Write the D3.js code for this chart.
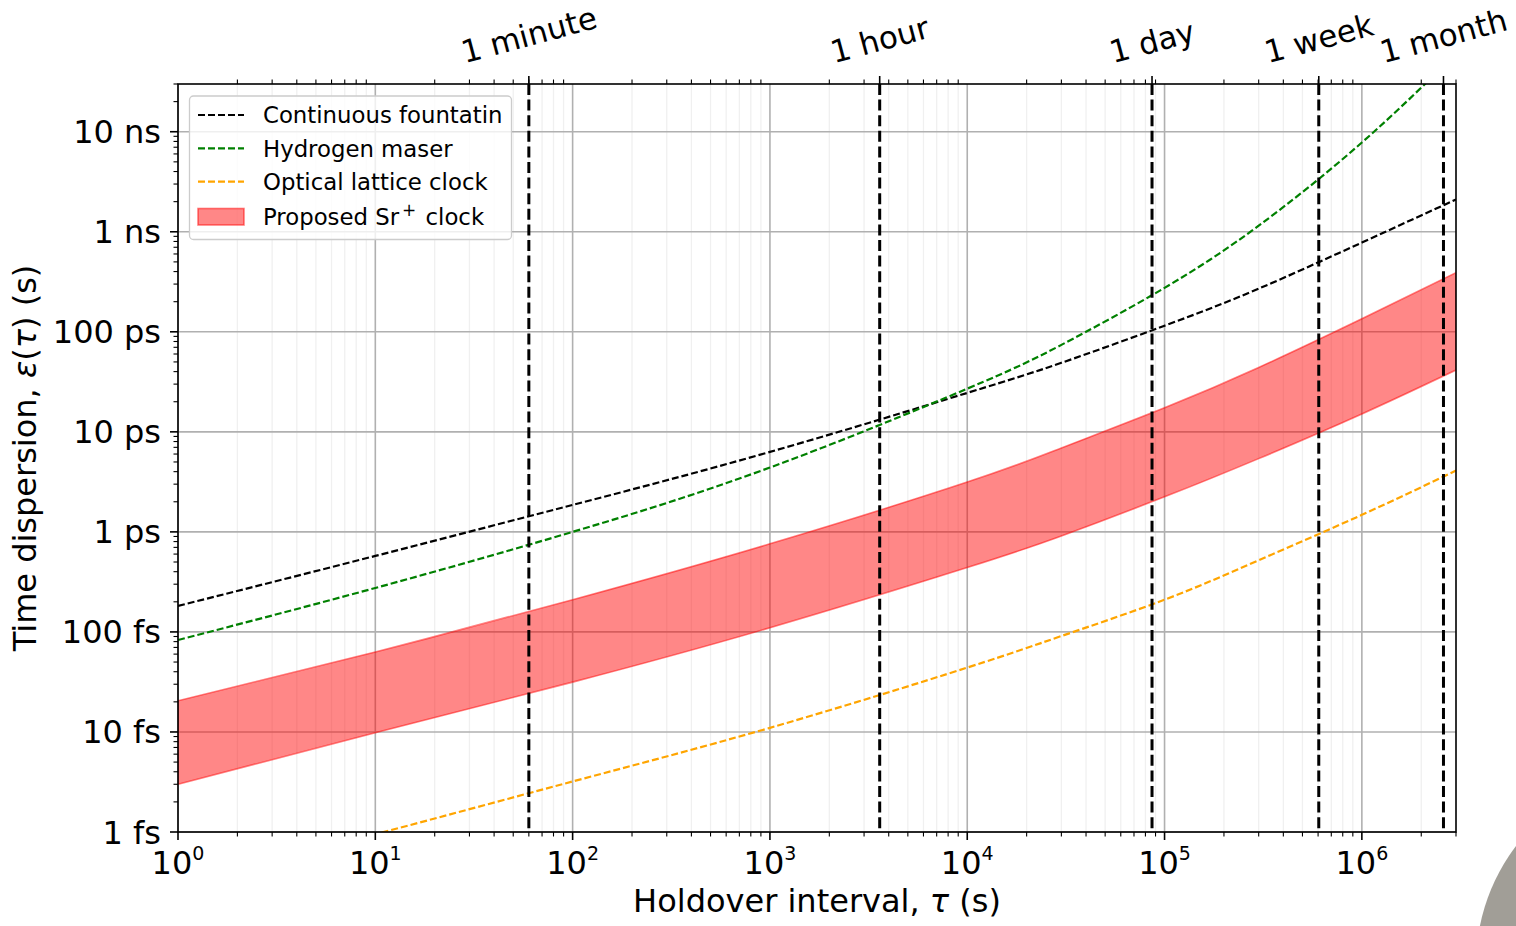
<!DOCTYPE html>
<meta charset="utf-8">
<style>
html, body {
  margin: 0;
  background: #fff;
}

.chart {
  display: block;
  font-family: "DejaVu Sans", sans-serif;
}
</style>
<body>
<svg class="chart" width="1516" height="926"></svg>

<script src="https://d3js.org/d3.v7.min.js"></script>
<script>
"use strict";

// holdover intervals (s) at which the curves were read
var tau = [1, 10, 100, 1e3, 1e4, 3e4, 1e5, 3e5, 1e6, 3e6];

// time dispersion (s) for each clock
var fountain = [1.82e-13, 5.75e-13, 1.86e-12, 6.3e-12, 2.45e-11, 4.9e-11, 1.15e-10, 2.7e-10, 7.8e-10, 2.1e-9];
var maser    = [8.3e-14, 2.75e-13, 1.0e-12, 4.4e-12, 2.7e-11, 7.4e-11, 2.75e-10, 1.15e-9, 7.8e-9, 6.0e-8];
var lattice  = [3.0e-16, 9.5e-16, 3.2e-15, 1.1e-14, 4.4e-14, 9.1e-14, 2.1e-13, 5.2e-13, 1.48e-12, 4.1e-12];
var srUpper  = [2.05e-14, 6.3e-14, 2.1e-13, 7.6e-13, 3.15e-12, 6.9e-12, 1.74e-11, 4.4e-11, 1.35e-10, 3.9e-10];
var srLower  = [3.0e-15, 9.8e-15, 3.15e-14, 1.1e-13, 4.4e-13, 9.1e-13, 2.24e-12, 5.4e-12, 1.51e-11, 4.15e-11];

var markTimes  = [60, 3600, 86400, 604800, 2592000];
var markLabels = ["1 minute", "1 hour", "1 day", "1 week", "1 month"];

var yTickValues = [1e-15, 1e-14, 1e-13, 1e-12, 1e-11, 1e-10, 1e-9, 1e-8];
var yTickLabels = ["1 fs", "10 fs", "100 fs", "1 ps", "10 ps", "100 ps", "1 ns", "10 ns"];

var legendNames = ["Continuous fountatin", "Hydrogen maser", "Optical lattice clock"];

var W = 1516, H = 926;
var margin = { top: 84, right: 60, bottom: 94, left: 178 };

var svg = d3.select(".chart");

var x = d3.scaleLog().domain([1, 3e6]).range([margin.left, W - margin.right]);
var y = d3.scaleLog().domain([1e-15, 3e-8]).range([H - margin.bottom, margin.top]);

var x0 = margin.left, x1 = W - margin.right, y0 = H - margin.bottom, y1 = margin.top;

function isDecade(v) {
  var l = Math.log10(v);
  return Math.abs(l - Math.round(l)) < 1e-9;
}

var xAll = x.ticks();
var xMajor = xAll.filter(isDecade);
var xMinor = xAll.filter(function (v) { return !isDecade(v); });
var yMinor = y.ticks().filter(function (v) { return !isDecade(v); });

svg.append("defs").append("clipPath").attr("id", "plot-clip")
  .append("rect")
    .attr("x", x0).attr("y", y1)
    .attr("width", x1 - x0).attr("height", y0 - y1);

// grid
svg.append("g").selectAll("line").data(xMinor)
  .enter().append("line")
    .attr("x1", x).attr("x2", x)
    .attr("y1", y1).attr("y2", y0)
    .attr("stroke", "#f0f0f0").attr("stroke-width", 1.3);

svg.append("g").selectAll("line").data(xMajor)
  .enter().append("line")
    .attr("x1", x).attr("x2", x)
    .attr("y1", y1).attr("y2", y0)
    .attr("stroke", "#b0b0b0").attr("stroke-width", 1.6);

svg.append("g").selectAll("line").data(yTickValues)
  .enter().append("line")
    .attr("x1", x0).attr("x2", x1)
    .attr("y1", y).attr("y2", y)
    .attr("stroke", "#b0b0b0").attr("stroke-width", 1.6);

var plot = svg.append("g").attr("clip-path", "url(#plot-clip)");

// Sr+ band
var band = d3.area()
  .x(function (d, i) { return x(tau[i]); })
  .y0(function (d, i) { return y(srLower[i]); })
  .y1(function (d, i) { return y(srUpper[i]); })
  .curve(d3.curveNatural);

plot.append("path")
  .datum(tau)
  .attr("d", band)
  .attr("fill", "#ff0000").attr("fill-opacity", 0.47)
  .attr("stroke", "#ff0000").attr("stroke-opacity", 0.5).attr("stroke-width", 1.6);

var line = d3.line()
  .x(function (d, i) { return x(tau[i]); })
  .y(function (d) { return y(d); })
  .curve(d3.curveNatural);

var series = [
  { values: fountain, color: "#000000" },
  { values: maser, color: "#008000" },
  { values: lattice, color: "#ffa500" }
];

plot.selectAll(".series").data(series)
  .enter().append("path")
    .attr("class", "series")
    .attr("d", function (d) { return line(d.values); })
    .attr("fill", "none")
    .attr("stroke", function (d) { return d.color; })
    .attr("stroke-width", 2.2)
    .attr("stroke-dasharray", "7,3");

// holdover markers
plot.selectAll(".mark").data(markTimes)
  .enter().append("line")
    .attr("class", "mark")
    .attr("x1", x).attr("x2", x)
    .attr("y1", y1).attr("y2", y0)
    .attr("stroke", "#000").attr("stroke-width", 3)
    .attr("stroke-dasharray", "11,4.6");

// frame
svg.append("rect")
  .attr("x", x0).attr("y", y1)
  .attr("width", x1 - x0).attr("height", y0 - y1)
  .attr("fill", "none").attr("stroke", "#000").attr("stroke-width", 1.6);

// bottom ticks
var ticks = svg.append("g").attr("stroke", "#000");
ticks.selectAll(".xmaj").data(xMajor).enter().append("line")
  .attr("x1", x).attr("x2", x).attr("y1", y0).attr("y2", y0 + 8).attr("stroke-width", 1.6);
ticks.selectAll(".xmin").data(xMinor).enter().append("line")
  .attr("x1", x).attr("x2", x).attr("y1", y0).attr("y2", y0 + 4.5).attr("stroke-width", 1.1);

// top ticks
ticks.selectAll(".tmin").data(xMinor).enter().append("line")
  .attr("x1", x).attr("x2", x).attr("y1", y1).attr("y2", y1 - 4.5).attr("stroke-width", 1.1);
ticks.selectAll(".tmaj").data(markTimes).enter().append("line")
  .attr("x1", x).attr("x2", x).attr("y1", y1).attr("y2", y1 - 8).attr("stroke-width", 1.6);

// left ticks
ticks.selectAll(".ymaj").data(yTickValues).enter().append("line")
  .attr("y1", y).attr("y2", y).attr("x1", x0).attr("x2", x0 - 8).attr("stroke-width", 1.6);
ticks.selectAll(".ymin").data(yMinor).enter().append("line")
  .attr("y1", y).attr("y2", y).attr("x1", x0).attr("x2", x0 - 4.5).attr("stroke-width", 1.1);

// y tick labels
svg.append("g").selectAll("text").data(yTickValues)
  .enter().append("text")
    .attr("x", x0 - 17)
    .attr("y", y)
    .attr("dy", "0.36em")
    .attr("text-anchor", "end")
    .attr("font-size", 32)
    .text(function (d, i) { return yTickLabels[i]; });

// x tick labels 10^n
var xl = svg.append("g").selectAll("text").data(xMajor)
  .enter().append("text")
    .attr("x", x)
    .attr("y", 874)
    .attr("text-anchor", "middle")
    .attr("font-size", 32);
xl.append("tspan").text("10");
xl.append("tspan")
  .attr("font-size", 19)
  .attr("dy", -14)
  .text(function (d) { return Math.round(Math.log10(d)); });

// top labels
var rad = 15 * Math.PI / 180;
svg.append("g").selectAll("text").data(markTimes)
  .enter().append("text")
    .attr("text-anchor", "middle")
    .attr("font-size", 31)
    .attr("dy", "0.36em")
    .text(function (d, i) { return markLabels[i]; })
    .each(function (d) {
      var w = this.getComputedTextLength();
      var cy = 63.5 - (w / 2 * Math.sin(rad) + 11.3 * Math.cos(rad));
      var cx = x(d);
      d3.select(this)
        .attr("x", cx).attr("y", cy)
        .attr("transform", "rotate(-15," + cx + "," + cy + ")");
    });

// axis titles
var xt = svg.append("text")
  .attr("x", (x0 + x1) / 2)
  .attr("y", 912)
  .attr("text-anchor", "middle")
  .attr("font-size", 32);
xt.append("tspan").text("Holdover interval, ");
xt.append("tspan").attr("font-style", "italic").text("τ");
xt.append("tspan").text(" (s)");

var yt = svg.append("text")
  .attr("transform", "translate(36," + (y0 + y1) / 2 + ") rotate(-90)")
  .attr("text-anchor", "middle")
  .attr("font-size", 32);
yt.append("tspan").text("Time dispersion, ");
yt.append("tspan").attr("font-style", "italic").text("ε");
yt.append("tspan").text("(");
yt.append("tspan").attr("font-style", "italic").text("τ");
yt.append("tspan").text(") (s)");

// legend
var legend = svg.append("g");
legend.append("rect")
  .attr("x", 189.5).attr("y", 96)
  .attr("width", 322).attr("height", 143.5)
  .attr("rx", 4)
  .attr("fill", "#fff").attr("fill-opacity", 0.8)
  .attr("stroke", "#cccccc").attr("stroke-width", 1.3);

var rowY = [115, 148.3, 181.7, 216.7];

legend.selectAll(".lline").data(series)
  .enter().append("line")
    .attr("x1", 198).attr("x2", 244)
    .attr("y1", function (d, i) { return rowY[i]; })
    .attr("y2", function (d, i) { return rowY[i]; })
    .attr("stroke", function (d) { return d.color; })
    .attr("stroke-width", 2.2)
    .attr("stroke-dasharray", "7,3");

legend.append("rect")
  .attr("x", 198).attr("y", 208.5)
  .attr("width", 46).attr("height", 16.5)
  .attr("fill", "#ff0000").attr("fill-opacity", 0.47)
  .attr("stroke", "#ff0000").attr("stroke-opacity", 0.5).attr("stroke-width", 1.6);

legend.selectAll(".ltext").data(legendNames)
  .enter().append("text")
    .attr("x", 263)
    .attr("y", function (d, i) { return rowY[i]; })
    .attr("dy", "0.36em")
    .attr("font-size", 22.8)
    .text(String);

var sr = legend.append("text")
  .attr("x", 263).attr("y", rowY[3])
  .attr("dy", "0.36em")
  .attr("font-size", 22.8);
sr.append("tspan").text("Proposed Sr");
sr.append("tspan").attr("font-size", 17).attr("dx", 3).attr("dy", -9).text("+");
sr.append("tspan").attr("dx", 2).attr("dy", 9).text(" clock");

// grey disc cut off in the lower right corner
svg.append("circle")
  .attr("cx", 1673).attr("cy", 965).attr("r", 197)
  .attr("fill", "#a19e97");
</script>
</body>
